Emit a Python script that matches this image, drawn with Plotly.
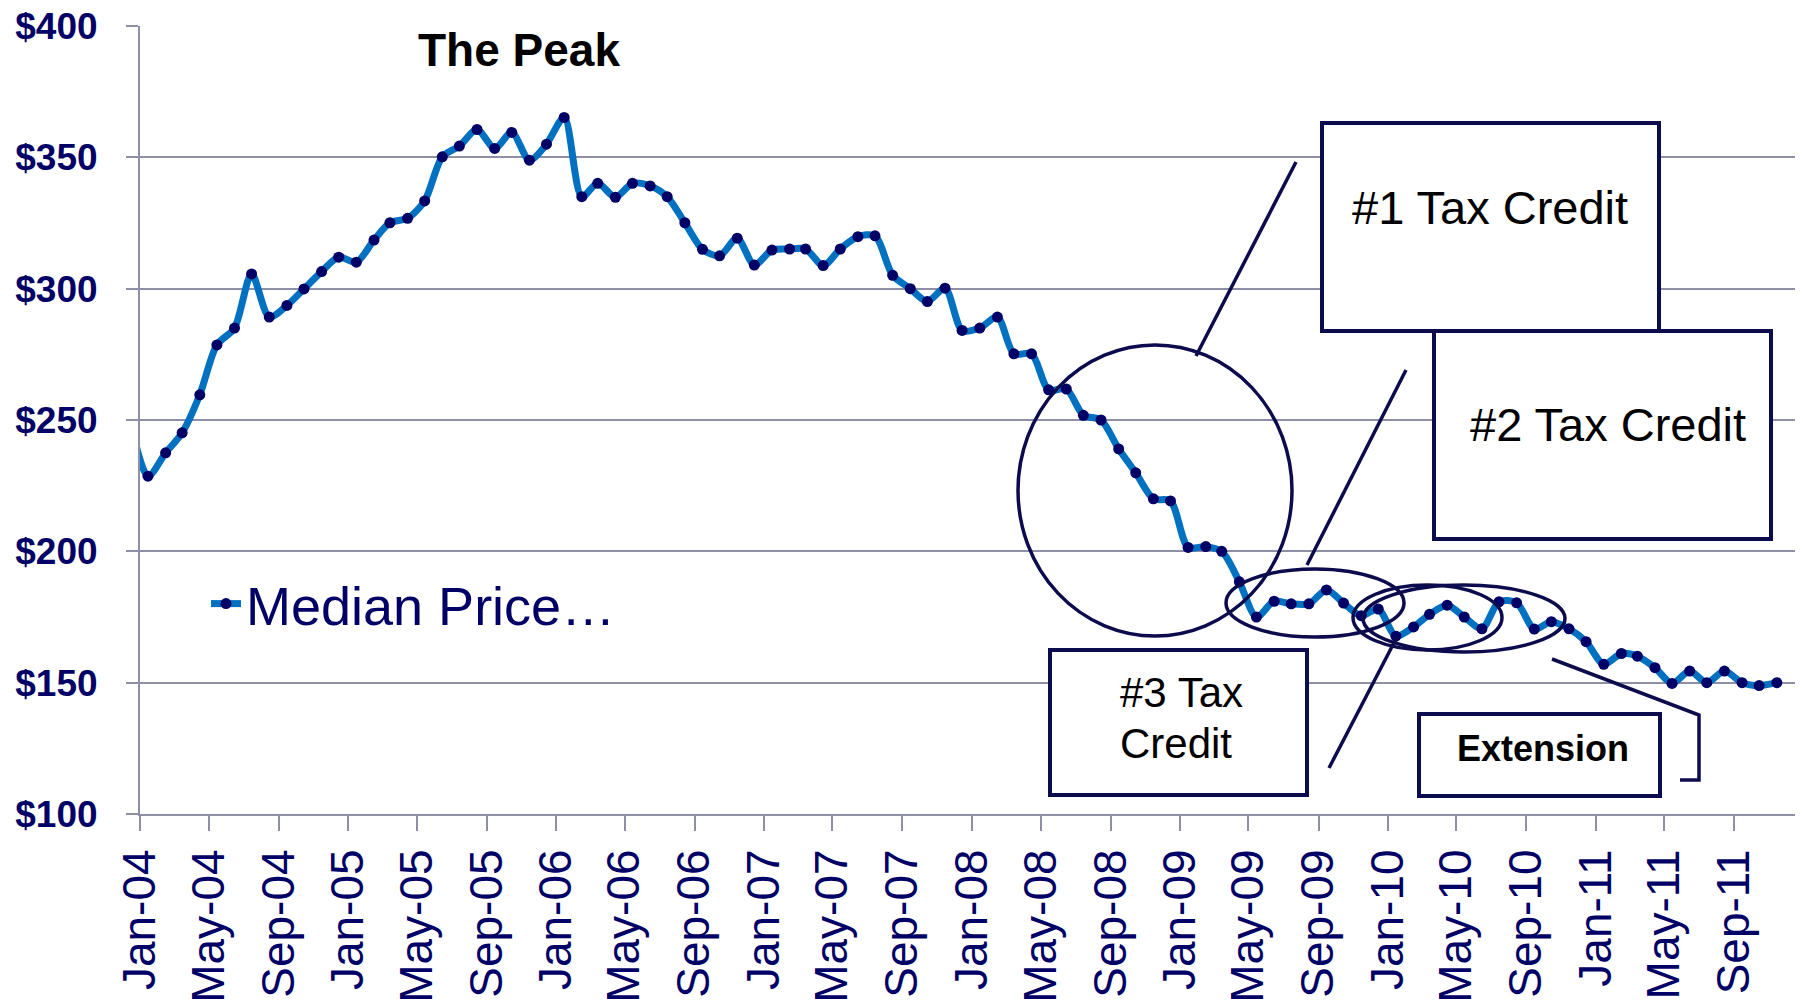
import pandas as pd
import plotly.graph_objects as go

# ---- data (median price, $ thousands), monthly, plotted mid-month ----
start_month = "2003-12-01"
prices_2003 = [250.0]
prices_2004 = [228.6, 237.5, 245.1, 259.6, 278.6, 285.0, 305.6, 289.2, 293.6, 299.9, 306.5, 312.0]
prices_2005 = [310.1, 318.5, 325.1, 326.8, 333.4, 350.2, 354.3, 360.6, 353.4, 359.5, 348.9, 355.0]
prices_2006 = [365.2, 335.0, 340.1, 334.8, 340.1, 339.1, 335.0, 325.1, 315.0, 312.5, 319.2, 309.0]
prices_2007 = [314.7, 315.1, 315.1, 308.8, 315.1, 319.8, 320.1, 305.1, 300.0, 295.1, 300.2, 284.1]
prices_2008 = [285.0, 289.2, 275.2, 275.2, 261.5, 261.8, 251.8, 250.0, 239.0, 229.9, 220.0, 219.2]
prices_2009 = [201.5, 201.8, 200.0, 188.4, 175.0, 181.0, 180.0, 180.0, 185.3, 180.3, 175.5, 178.0]
prices_2010 = [167.7, 171.2, 176.0, 179.5, 175.0, 170.5, 180.8, 180.4, 170.4, 173.2, 170.5, 165.6]
prices_2011 = [157.0, 161.1, 160.1, 155.7, 149.7, 154.4, 150.0, 154.4, 150.0, 148.9, 150.0]

y_ticks = [100, 150, 200, 250, 300, 350, 400]
y_tick_labels = ["$100", "$150", "$200", "$250", "$300", "$350", "$400"]
series_name = "Median Price\u2026"

prices = (prices_2003 + prices_2004 + prices_2005 + prices_2006 + prices_2007
          + prices_2008 + prices_2009 + prices_2010 + prices_2011)
months = pd.date_range(start_month, periods=len(prices), freq="MS") + pd.Timedelta(days=14)

NAVY = "#000066"
DARK = "#0b0b4d"
GRID = "#8e8ea6"
FONT = "Liberation Sans, Arial, sans-serif"

# page body has an 8px default margin; compensate
OFF = 8
W, H = 1803 - OFF, 1003 - OFF
L, R, T, B = 140 - OFF, 0, 26 - OFF, 189
PW, PH = W - L - R, H - T - B


def px(x):
    return (x - OFF - L) / PW


def py(y):
    return (H - B - (y - OFF)) / PH


fig = go.Figure()
fig.add_trace(go.Scatter(
    x=months, y=prices, name=series_name, mode="lines+markers",
    line=dict(color="#0070C0", width=7, shape="spline", smoothing=0.8),
    marker=dict(color=NAVY, size=11),
))

shapes = []
# ellipses
for (x0, y0, x1, y1) in [(1018, 345, 1292, 636), (1226, 569, 1404, 637),
                         (1353, 585, 1502, 650), (1363, 585, 1565, 652)]:
    shapes.append(dict(type="circle", xref="paper", yref="paper",
                       x0=px(x0), x1=px(x1), y0=py(y1), y1=py(y0),
                       line=dict(color=DARK, width=3.5)))
# boxes
for (x0, y0, x1, y1) in [(1322, 123, 1659, 331), (1434, 331, 1771, 539),
                         (1050, 650, 1307, 795), (1419, 714, 1660, 796)]:
    shapes.append(dict(type="rect", xref="paper", yref="paper",
                       x0=px(x0), x1=px(x1), y0=py(y1), y1=py(y0),
                       fillcolor="white", line=dict(color=DARK, width=4)))
# pointer lines
for (x0, y0, x1, y1) in [(1196, 356, 1296, 162), (1406, 370, 1307, 565),
                         (1397, 637, 1329, 768)]:
    shapes.append(dict(type="line", xref="paper", yref="paper",
                       x0=px(x0), x1=px(x1), y0=py(y0), y1=py(y1),
                       line=dict(color=DARK, width=3.5)))
# bracket for extension
path = "M {},{} L {},{} L {},{} L {},{}".format(
    px(1552), py(659), px(1699), py(715), px(1699), py(780), px(1680), py(780))
shapes.append(dict(type="path", xref="paper", yref="paper", path=path,
                   line=dict(color=DARK, width=3.5)))

annotations = [
    dict(text="<b>The Peak</b>", x=px(519), y=py(50), font=dict(size=46, color="black", family=FONT)),
    dict(text="#1 Tax Credit", x=px(1490), y=py(207), font=dict(size=47, color="black", family=FONT)),
    dict(text="#2 Tax Credit", x=px(1608), y=py(425), font=dict(size=47, color="black", family=FONT)),
    dict(text="#3 Tax", x=px(1118), y=py(692), xanchor="left", font=dict(size=42, color="black", family=FONT)),
    dict(text="Credit", x=px(1118), y=py(743), xanchor="left", font=dict(size=42, color="black", family=FONT)),
    dict(text="<b>Extension</b>", x=px(1543), y=py(748), font=dict(size=36, color="black", family=FONT)),
]
for a in annotations:
    a.update(xref="paper", yref="paper", showarrow=False)
    a.setdefault("xanchor", "center")
    a.setdefault("yanchor", "middle")

fig.update_layout(
    width=W, height=H,
    margin=dict(l=L, r=R, t=T, b=B, autoexpand=False),
    paper_bgcolor="white", plot_bgcolor="white",
    font=dict(family=FONT, color=NAVY),
    shapes=shapes, annotations=annotations,
    showlegend=True,
    legend=dict(x=px(206), y=py(604), xanchor="left", yanchor="middle",
                font=dict(size=54, color=NAVY, family=FONT),
                bgcolor="rgba(0,0,0,0)"),
    xaxis=dict(
        type="date", range=["2004-01-01", "2011-12-31"], automargin=False,
        tick0="2004-01-01", dtick="M4", tickformat="%b-%y", ticklabelmode="instant",
        tickangle=-90, tickfont=dict(size=46, color=NAVY, family=FONT),
        ticks="outside", ticklen=15, tickwidth=2, tickcolor=GRID,
        showline=True, linecolor=GRID, linewidth=2, showgrid=False,
        ticklabelstandoff=0, zeroline=False, ticklabeloverflow="allow",
    ),
    yaxis=dict(
        range=[100, 400], tickvals=y_ticks, ticktext=y_tick_labels, automargin=False,
        tickfont=dict(size=37, color=NAVY, family=FONT, weight="bold"),
        ticks="outside", ticklen=12, tickwidth=2, tickcolor=GRID,
        showline=True, linecolor=GRID, linewidth=2,
        showgrid=True, gridcolor=GRID, gridwidth=2, zeroline=False,
        ticklabelstandoff=21, ticklabeloverflow="allow",
    ),
)

fig.write_html("out.html")
